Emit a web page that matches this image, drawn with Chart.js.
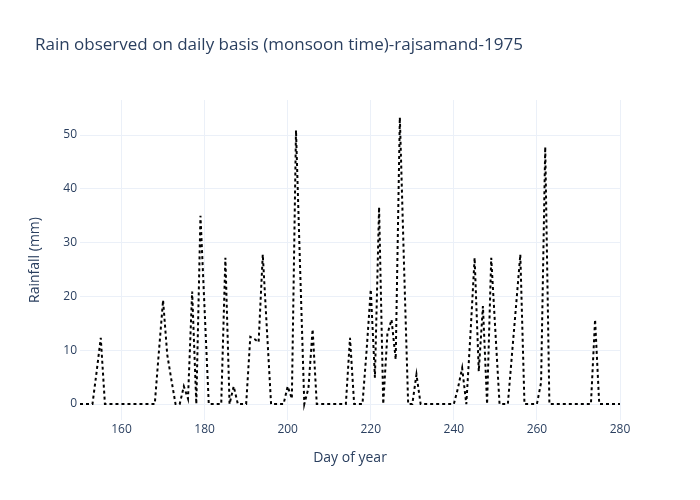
<!DOCTYPE html>
<html>
<head>
<meta charset="utf-8">
<title>Rain observed on daily basis (monsoon time)-rajsamand-1975</title>
<script src="https://cdn.jsdelivr.net/npm/chart.js@4.4.1/dist/chart.umd.min.js"></script>
<style>
  html, body { margin: 0; padding: 0; background: #fff; }
  #wrap { width: 700px; height: 500px; }
</style>
</head>
<body>
<div id="wrap"><canvas id="rainChart" width="700" height="500"></canvas></div>
<script>
// Days of year (x)
const days = [
  150, 151, 152, 153, 154, 155, 156, 157, 158, 159,
  160, 161, 162, 163, 164, 165, 166, 167, 168, 169,
  170, 171, 172, 173, 174, 175, 176, 177, 178, 179,
  180, 181, 182, 183, 184, 185, 186, 187, 188, 189,
  190, 191, 192, 193, 194, 195, 196, 197, 198, 199,
  200, 201, 202, 203, 204, 205, 206, 207, 208, 209,
  210, 211, 212, 213, 214, 215, 216, 217, 218, 219,
  220, 221, 222, 223, 224, 225, 226, 227, 228, 229,
  230, 231, 232, 233, 234, 235, 236, 237, 238, 239,
  240, 241, 242, 243, 244, 245, 246, 247, 248, 249,
  250, 251, 252, 253, 254, 255, 256, 257, 258, 259,
  260, 261, 262, 263, 264, 265, 266, 267, 268, 269,
  270, 271, 272, 273, 274, 275, 276, 277, 278, 279,
  280
];

// Rainfall in mm
const rainfall = [
  0, 0, 0, 0, 6, 12.3, 0, 0, 0, 0,
  0, 0, 0, 0, 0, 0, 0, 0, 0, 9.8,
  19.3, 9.2, 4.5, 0, 0, 3.3, 1, 20.9, 0, 35,
  17.5, 0, 0, 0, 0, 27.2, 0, 3.3, 0, 0,
  0, 12.5, 12.1, 11.5, 27.8, 13.8, 0, 0, 0, 0,
  3.3, 1, 50.9, 25, 0, 3, 13.9, 0, 0, 0,
  0, 0, 0, 0, 0, 12.3, 0, 0, 0, 10,
  21.3, 4.9, 36.6, 0, 13, 15.7, 8.3, 53.3, 26, 0,
  0, 5.5, 0, 0, 0, 0, 0, 0, 0, 0,
  0, 3, 6.7, 0, 13, 27.2, 6.1, 18.2, 0, 27.2,
  13.5, 0, 0, 0, 9.3, 18.5, 27.8, 0, 0, 0,
  0, 4, 47.8, 0, 0, 0, 0, 0, 0, 0,
  0, 0, 0, 0, 15.7, 0, 0, 0, 0, 0,
  0
];

const xTicks = [160, 180, 200, 220, 240, 260, 280];
const yTicks = [0, 10, 20, 30, 40, 50];

const chartTitle = 'Rain observed on daily basis (monsoon time)-rajsamand-1975';
const xTitle = 'Day of year';
const yTitle = 'Rainfall (mm)';

const textColor = '#2a3f5f';
const gridColor = '#ebf0f8';

Chart.defaults.font.family = '"Open Sans", "Noto Sans", sans-serif';
Chart.defaults.color = textColor;

// draws the plotly-like title in the top left corner
const titlePlugin = {
  id: 'plotTitle',
  afterDraw(chart) {
    const ctx = chart.ctx;
    ctx.save();
    ctx.font = '17px "Open Sans", "Noto Sans", sans-serif';
    ctx.fillStyle = textColor;
    ctx.textAlign = 'left';
    ctx.textBaseline = 'middle';
    ctx.fillText(chartTitle, 35, 45);
    ctx.restore();
  }
};

function createRainChart() {
  const ctx = document.getElementById('rainChart').getContext('2d');

  new Chart(ctx, {
    type: 'line',
    data: {
      datasets: [{
        label: 'rainfall',
        data: days.map((d, i) => ({ x: d, y: rainfall[i] })),
        borderColor: '#000000',
        backgroundColor: '#000000',
        borderWidth: 2,
        borderDash: [3, 3],
        pointRadius: 0,
        tension: 0,
        fill: false
      }]
    },
    options: {
      responsive: false,
      animation: false,
      devicePixelRatio: 1,
      layout: {
        padding: { left: 0, right: 80, top: 100, bottom: 0 }
      },
      plugins: {
        legend: { display: false },
        tooltip: { enabled: false },
        title: { display: false }
      },
      scales: {
        x: {
          type: 'linear',
          min: 150,
          max: 280,
          afterBuildTicks: (scale) => {
            scale.ticks = xTicks.map(v => ({ value: v }));
          },
          afterFit: (scale) => { scale.height = 80; },
          grid: { color: gridColor, lineWidth: 1, drawTicks: false },
          border: { display: false },
          ticks: {
            padding: 2,
            maxRotation: 0,
            font: { size: 12 },
            color: textColor
          },
          title: {
            display: true,
            text: xTitle,
            font: { size: 14 },
            color: textColor,
            padding: { top: 0, bottom: 34 }
          }
        },
        y: {
          type: 'linear',
          min: -2.96,
          max: 56.52,
          afterBuildTicks: (scale) => {
            scale.ticks = yTicks.map(v => ({ value: v }));
          },
          afterFit: (scale) => { scale.width = 80; },
          grid: { color: gridColor, lineWidth: 1, drawTicks: false },
          border: { display: false },
          ticks: {
            padding: 3,
            font: { size: 12 },
            color: textColor
          },
          title: {
            display: true,
            text: yTitle,
            font: { size: 14 },
            color: textColor,
            padding: { top: 27, bottom: 0 }
          }
        }
      }
    },
    plugins: [titlePlugin]
  });
}

document.addEventListener('DOMContentLoaded', function() {
  createRainChart();
});
</script>
</body>
</html>
